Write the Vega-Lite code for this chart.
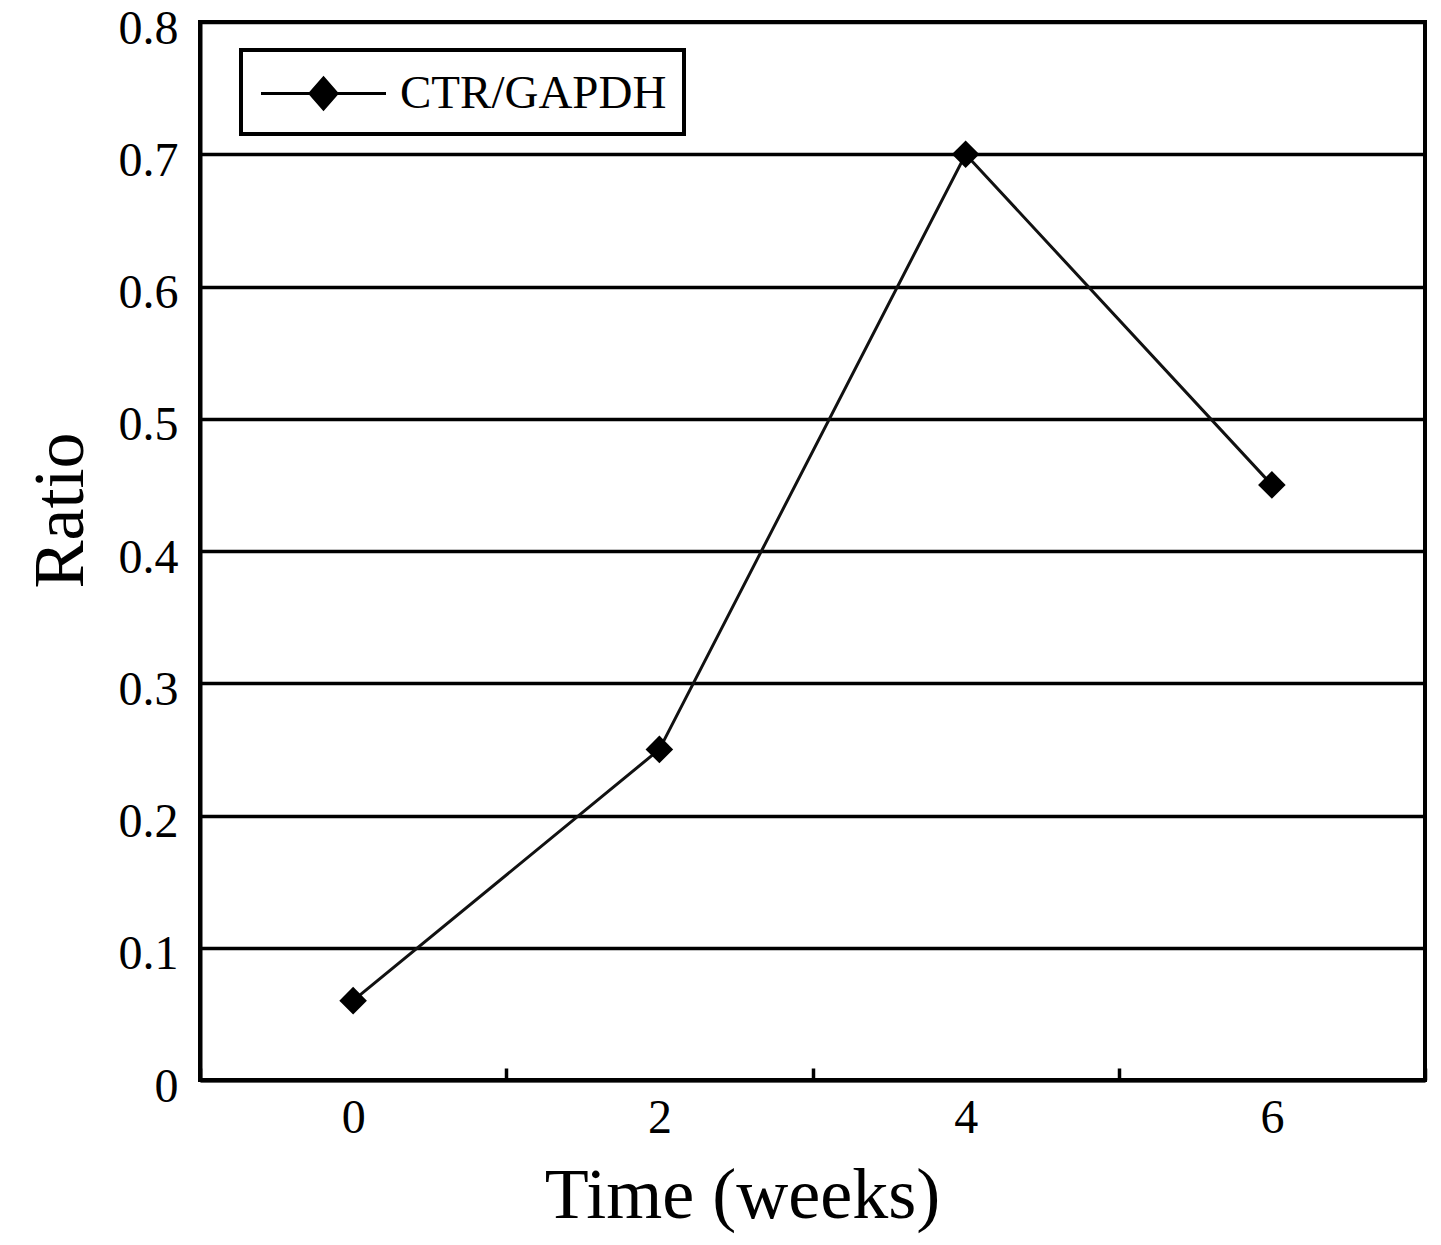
{
  "$schema": "https://vega.github.io/schema/vega-lite/v6.json",
  "width": 1225,
  "height": 1058,
  "autosize": {"type": "none"},
  "padding": {"left": 200, "top": 22, "right": 16, "bottom": 165},
  "background": "white",
  "config": {
    "view": {"stroke": "black", "strokeWidth": 4},
    "font": "Liberation Serif",
    "legend": {
      "strokeWidth": 4,
      "symbolStrokeWidth": 3,
      "symbolStrokeColor": "black",
      "symbolFillColor": "black"
    }
  },
  "data": {
    "values": [
      {"week": "0", "ratio": 0.06, "series": "CTR/GAPDH"},
      {"week": "2", "ratio": 0.25, "series": "CTR/GAPDH"},
      {"week": "4", "ratio": 0.70, "series": "CTR/GAPDH"},
      {"week": "6", "ratio": 0.45, "series": "CTR/GAPDH"}
    ]
  },
  "encoding": {
    "x": {
      "field": "week",
      "type": "ordinal",
      "sort": null,
      "scale": {"type": "band", "paddingInner": 0, "paddingOuter": 0},
      "axis": {
        "title": "Time (weeks)",
        "titleFont": "Liberation Serif",
        "titleFontSize": 72,
        "titleFontWeight": "normal",
        "titleColor": "black",
        "titleX": 542,
        "titleY": 137,
        "titleAlign": "center",
        "titleBaseline": "alphabetic",
        "labelAngle": 0,
        "labelFont": "Liberation Serif",
        "labelFontSize": 48,
        "labelColor": "black",
        "labelBaseline": "alphabetic",
        "labelPadding": 64,
        "tickBand": "extent",
        "tickSize": -12,
        "tickWidth": 3.5,
        "tickColor": "black",
        "domainColor": "black",
        "domainWidth": 4,
        "grid": false
      }
    },
    "y": {
      "field": "ratio",
      "type": "quantitative",
      "scale": {"domain": [0, 0.8], "nice": false},
      "axis": {
        "title": "Ratio",
        "titleFont": "Liberation Serif",
        "titleFontSize": 72,
        "titleFontWeight": "normal",
        "titleColor": "black",
        "titleX": -118,
        "titleY": 488,
        "titleAlign": "center",
        "titleBaseline": "alphabetic",
        "titleAngle": -90,
        "values": [0, 0.1, 0.2, 0.3, 0.4, 0.5, 0.6, 0.7, 0.8],
        "format": ".1~f",
        "labelFont": "Liberation Serif",
        "labelFontSize": 48,
        "labelColor": "black",
        "labelPadding": 22,
        "labelOffset": 7,
        "ticks": false,
        "domainColor": "black",
        "domainWidth": 4,
        "grid": true,
        "gridColor": "black",
        "gridWidth": 3.5,
        "gridOpacity": 1
      }
    }
  },
  "layer": [
    {
      "mark": {"type": "line", "color": "#111111", "strokeWidth": 3}
    },
    {
      "mark": {"type": "point", "filled": true, "shape": "diamond", "size": 760, "opacity": 1},
      "encoding": {
        "color": {
          "field": "series",
          "type": "nominal",
          "scale": {"range": ["black"]},
          "legend": {
            "orient": "none",
            "legendX": 41,
            "legendY": 28,
            "title": null,
            "padding": 17,
            "strokeColor": "black",
            "fillColor": "white",
            "symbolType": "M-2.5,0H2.5M0,-0.62L0.54,0L0,0.62L-0.54,0Z",
            "symbolSize": 2500,
            "symbolOffset": 39,
            "symbolStrokeColor": "black",
            "symbolStrokeWidth": 3,
            "symbolFillColor": "black",
            "labelOffset": 50,
            "labelLimit": 600,
            "labelFont": "Liberation Serif",
            "labelFontSize": 47,
            "labelColor": "black"
          }
        }
      }
    }
  ]
}
